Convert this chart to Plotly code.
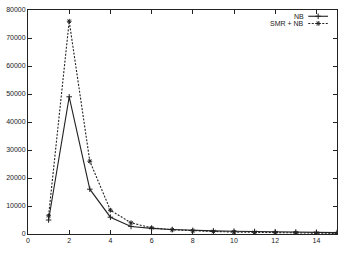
import plotly.graph_objects as go

x_vals = list(range(1, 16))
nb = [5000, 49000, 16000, 6000, 2700, 2000, 1600, 1300, 1100, 1000, 900, 800, 700, 600, 500]
smr_nb = [6500, 76000, 26000, 8500, 4000, 2200, 1500, 1100, 900, 700, 600, 500, 400, 300, 200]
series_names = ["NB", "SMR + NB"]
x_ticks = [0, 2, 4, 6, 8, 10, 12, 14]
y_ticks = [0, 10000, 20000, 30000, 40000, 50000, 60000, 70000, 80000]

FONT = dict(family="Liberation Sans, Arial, sans-serif", size=7, color="#222222")
DASH = "2px,1.5px"

fig = go.Figure()
fig.add_trace(go.Scatter(x=x_vals, y=nb, mode="lines+markers", name=series_names[0],
                         line=dict(color="#222", width=1.1),
                         marker=dict(symbol="cross-thin-open", size=4, color="#222",
                                     line=dict(width=1, color="#222")),
                         showlegend=False))
fig.add_trace(go.Scatter(x=x_vals, y=smr_nb, mode="lines+markers", name=series_names[1],
                         line=dict(color="#222", width=1.1, dash=DASH),
                         marker=dict(symbol="asterisk-open", size=4, color="#222",
                                     line=dict(width=1, color="#222")),
                         showlegend=False))

# gnuplot-style legend: text right-aligned, then sample line with marker
leg_y = [0.972, 0.94]
styles = [dict(dash="solid", sym="cross-thin-open"), dict(dash=DASH, sym="asterisk-open")]
for name, ly, st in zip(series_names, leg_y, styles):
    fig.add_annotation(xref="paper", yref="paper", x=0.9, y=ly, text=name,
                       showarrow=False, xanchor="right", yanchor="middle", font=FONT)
    fig.add_trace(go.Scatter(x=[0.907, 0.971], y=[ly, ly], xaxis="x2", yaxis="y2",
                             mode="lines", line=dict(color="#222", width=1.1, dash=st["dash"]),
                             showlegend=False, hoverinfo="skip"))
    fig.add_trace(go.Scatter(x=[0.939], y=[ly], xaxis="x2", yaxis="y2", mode="markers",
                             marker=dict(symbol=st["sym"], size=4, color="#222",
                                         line=dict(width=1, color="#222")),
                             showlegend=False, hoverinfo="skip"))

axis_common = dict(showline=True, linecolor="#222", linewidth=1, mirror="ticks",
                   ticks="inside", ticklen=4, tickcolor="#222", showgrid=False,
                   zeroline=False, tickfont=FONT)
fig.update_layout(
    width=345, height=254,
    margin=dict(l=26, r=8, t=6, b=20),
    paper_bgcolor="white", plot_bgcolor="white",
    xaxis=dict(range=[0, 15], tickvals=x_ticks, **axis_common),
    yaxis=dict(range=[0, 80000], tickvals=y_ticks, tickformat="d", **axis_common),
    xaxis2=dict(range=[0, 1], overlaying="x", visible=False),
    yaxis2=dict(range=[0, 1], overlaying="y", visible=False),
)
fig.write_html("out.html")
